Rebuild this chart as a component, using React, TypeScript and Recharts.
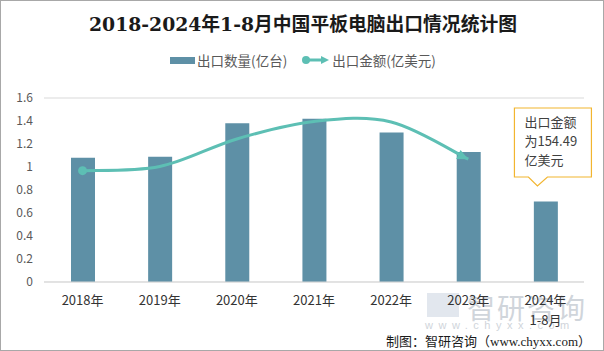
import React from "react";
import {
  ComposedChart,
  Bar,
  Line,
  XAxis,
  YAxis,
  CartesianGrid,
  ReferenceDot,
} from "recharts";

const years = ["2018年", "2019年", "2020年", "2021年", "2022年", "2023年", "2024年1-8月"];
// 出口数量(亿台)
const quantity = [1.08, 1.09, 1.38, 1.42, 1.3, 1.13, 0.7];
// 出口金额(亿美元), 2024年1-8月 not drawn on the line
const amount = [242, 251, 311, 349, 348, 267, null];
const yTicks = [0, 0.2, 0.4, 0.6, 0.8, 1, 1.2, 1.4, 1.6];

const BAR_COLOR = "#5e90a6";
const LINE_COLOR = "#5dbfb4";
const CJK = '"Microsoft YaHei", "Noto Sans CJK SC", sans-serif';

const data = years.map((year, i) => ({ year, quantity: quantity[i], amount: amount[i] }));

// Excel-like smoothed line
const smoothCurve = (context: any) => {
  let pts: [number, number][] = [];
  return {
    areaStart() {},
    areaEnd() {},
    lineStart() {
      pts = [];
    },
    point(x: number, y: number) {
      pts.push([+x, +y]);
    },
    lineEnd() {
      const n = pts.length;
      if (!n) return;
      context.moveTo(pts[0][0], pts[0][1]);
      for (let i = 0; i < n - 1; i++) {
        const p0 = pts[Math.max(i - 1, 0)];
        const p1 = pts[i];
        const p2 = pts[i + 1];
        const p3 = pts[Math.min(i + 2, n - 1)];
        context.bezierCurveTo(
          p1[0] + (p2[0] - p0[0]) / 6,
          p1[1] + (p2[1] - p0[1]) / 6,
          p2[0] - (p3[0] - p1[0]) / 6,
          p2[1] - (p3[1] - p1[1]) / 6,
          p2[0],
          p2[1]
        );
      }
    },
  };
};

const LineDot = (props: any) => {
  const { cx, cy, index, points } = props;
  if (cx == null || cy == null) return <g key={`d-${index}`} />;
  if (index === 0) {
    return <circle key={`d-${index}`} cx={cx} cy={cy} r={4.5} fill={LINE_COLOR} />;
  }
  const valid = (points || []).filter((p: any) => p.y != null);
  if (index === valid.length - 1) {
    const prev = valid[index - 1];
    let ang = 0.55;
    if (prev) {
      const p = valid[index - 2] || prev;
      ang = Math.atan2(cy - prev.y + (prev.y - p.y) * 0.15, cx - prev.x);
    }
    const len = 11;
    const w = 5;
    const bx = cx - len * Math.cos(ang);
    const by = cy - len * Math.sin(ang);
    const pts = [
      [cx, cy],
      [bx + w * Math.sin(ang), by - w * Math.cos(ang)],
      [bx - w * Math.sin(ang), by + w * Math.cos(ang)],
    ];
    return (
      <polygon
        key={`d-${index}`}
        points={pts.map((q) => q.join(",")).join(" ")}
        fill={LINE_COLOR}
      />
    );
  }
  return <g key={`d-${index}`} />;
};

const YearTick = ({ x, y, payload }: any) => {
  const v: string = payload.value;
  const lines = v === "2024年1-8月" ? ["2024年", "1-8月"] : [v];
  return (
    <g>
      {lines.map((t, i) => (
        <text
          key={t}
          x={x}
          y={y + 15 + i * 20}
          textAnchor="middle"
          fill="#333"
          fontSize={13}
          fontFamily={CJK}
        >
          {t}
        </text>
      ))}
    </g>
  );
};

const Callout = ({ cx, cy }: any) => {
  const tx = cx - 8;
  const left = tx - 23;
  const right = tx + 54;
  const top = cy - 78;
  const bottom = cy - 9;
  const d = `M${left},${top} H${right} V${bottom} H${tx + 10} L${tx},${cy} L${tx - 9},${bottom} H${left} Z`;
  return (
    <g>
      <path d={d} fill="#fff" stroke="#f2b52f" strokeWidth={1.2} />
      {["出口金额", "为154.49", "亿美元"].map((t, i) => (
        <text
          key={t}
          x={left + 10}
          y={top + 19 + i * 19}
          fill="#404040"
          fontSize={13}
          fontFamily={CJK}
        >
          {t}
        </text>
      ))}
    </g>
  );
};

const LegendBox = () => (
  <div
    style={{
      position: "absolute",
      left: 0,
      top: 49,
      width: 604,
      display: "flex",
      justifyContent: "center",
      alignItems: "center",
      fontSize: 13.5,
      color: "#595959",
      fontFamily: CJK,
    }}
  >
    <span style={{ display: "inline-block", width: 25, height: 7, background: BAR_COLOR, marginRight: 2 }} />
    <span>出口数量(亿台)</span>
    <svg width={28} height={12} style={{ marginLeft: 14, marginRight: 3 }}>
      <circle cx={5} cy={6} r={4} fill={LINE_COLOR} />
      <line x1={5} y1={6} x2={22} y2={6} stroke={LINE_COLOR} strokeWidth={3} />
      <polygon points="28,6 20,2 20,10" fill={LINE_COLOR} />
    </svg>
    <span>出口金额(亿美元)</span>
  </div>
);

export default function App() {
  return (
    <div
      style={{
        position: "absolute",
        left: 0,
        top: 0,
        width: 604,
        height: 351,
        background: "#fff",
        boxSizing: "border-box",
        border: "1px solid #a8a8a8",
        overflow: "hidden",
      }}
    >
      <div
        style={{
          position: "absolute",
          left: 0,
          top: 8,
          width: 604,
          textAlign: "center",
          fontFamily: '"DejaVu Serif", "Liberation Serif", "Noto Sans CJK SC", serif',
          fontWeight: "bold",
          fontSize: 18.8,
          color: "#1a1a1a",
        }}
      >
        2018-2024年1-8月中国平板电脑出口情况统计图
      </div>
      <LegendBox />
      {/* watermark */}
      <div
        style={{
          position: "absolute",
          left: 466,
          top: 286,
          fontSize: 28,
          color: "#d0d5db",
          fontFamily: CJK,
          letterSpacing: 2,
        }}
      >
        智研咨询
      </div>
      <div
        style={{
          position: "absolute",
          left: 426,
          top: 292,
          width: 32,
          height: 24,
          background: "#e2e7ee",
        }}
      />
      <div
        style={{
          position: "absolute",
          left: 424,
          top: 318,
          fontSize: 11,
          color: "#d0d5db",
          letterSpacing: 5.5,
          fontFamily: "Arial, sans-serif",
        }}
      >
        www.chyxx.com
      </div>
      <div style={{ position: "absolute", left: -1, top: -1 }}>
        <ComposedChart
          width={604}
          height={351}
          data={data}
          margin={{ top: 98, right: 20, bottom: 39, left: 0 }}
        >
          <CartesianGrid vertical={false} stroke="#d9d9d9" />
          <XAxis
            dataKey="year"
            height={30}
            axisLine={{ stroke: "#d9d9d9" }}
            tickLine={false}
            interval={0}
            tick={<YearTick />}
          />
          <YAxis
            yAxisId="left"
            width={44}
            domain={[0, 1.6]}
            ticks={yTicks}
            interval={0}
            axisLine={false}
            tickLine={false}
            tick={{ fill: "#595959", fontSize: 12, fontFamily: CJK }}
            tickMargin={5}
          />
          <YAxis yAxisId="right" orientation="right" hide domain={[0, 400]} />
          <Bar
            yAxisId="left"
            dataKey="quantity"
            name="出口数量(亿台)"
            fill={BAR_COLOR}
            barSize={24}
            isAnimationActive={false}
          />
          <Line
            yAxisId="right"
            dataKey="amount"
            name="出口金额(亿美元)"
            type={smoothCurve as any}
            stroke={LINE_COLOR}
            strokeWidth={3}
            dot={<LineDot />}
            activeDot={false}
            isAnimationActive={false}
          />
          <ReferenceDot
            yAxisId="left"
            x="2024年1-8月"
            y={0.835}
            r={0}
            shape={<Callout />}
          />
        </ComposedChart>
      </div>
      <div
        style={{
          position: "absolute",
          right: 12,
          top: 330,
          fontSize: 13,
          color: "#1a1a1a",
          fontFamily: '"Liberation Serif", "DejaVu Serif", "Noto Sans CJK SC", serif',
        }}
      >
        制图：智研咨询（www.chyxx.com）
      </div>
    </div>
  );
}
